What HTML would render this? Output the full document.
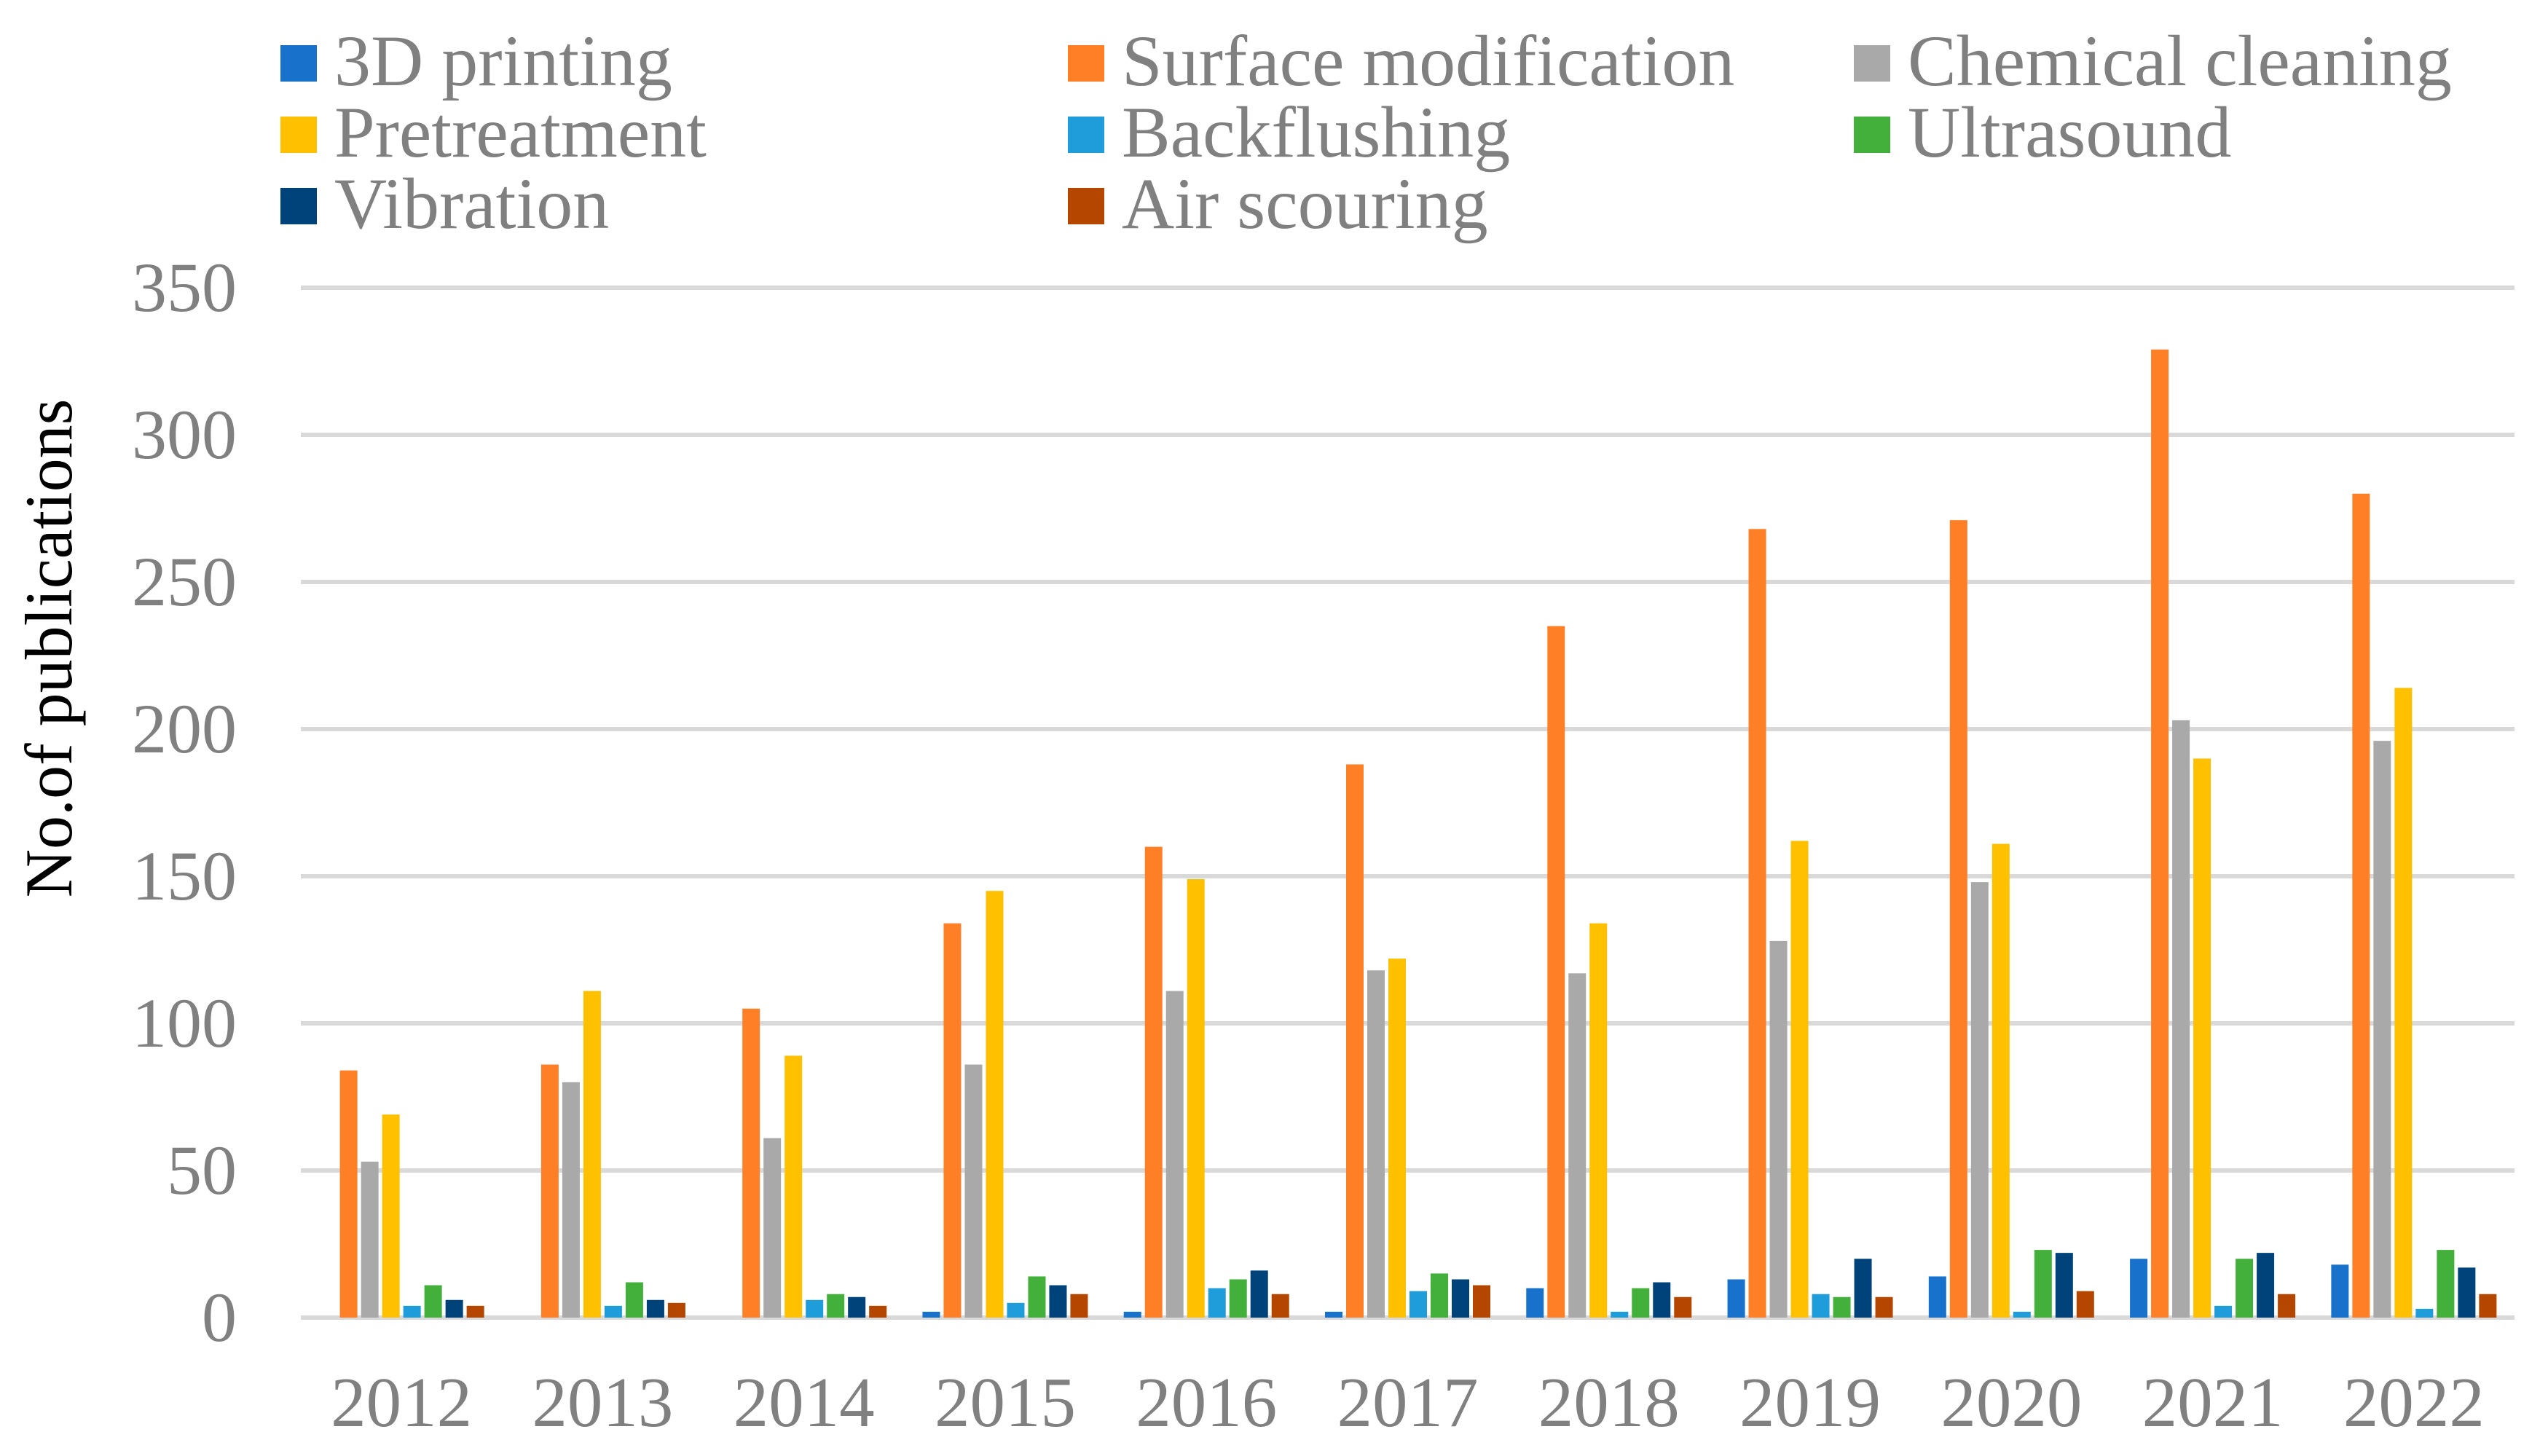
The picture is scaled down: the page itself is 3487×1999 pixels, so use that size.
<!DOCTYPE html>
<html><head><meta charset="utf-8"><style>
html,body{margin:0;padding:0;background:#fff;}
svg{display:block;}
text{font-family:"Liberation Serif",serif;}
</style></head><body>
<svg id="chart" width="3487" height="1999" viewBox="0 0 3487 1999" xmlns="http://www.w3.org/2000/svg">
<g id="grid"></g>
<g id="yticks"></g>
<g id="bars"></g>
<g id="xticks"></g>
<g id="legend"></g>
<text transform="translate(98,890) rotate(-90)" text-anchor="middle" font-size="92" fill="#000">No.of publications</text>
</svg>
<script>
const years = ["2012","2013","2014","2015","2016","2017","2018","2019","2020","2021","2022"];
const seriesNames = ["3D printing","Surface modification","Chemical cleaning","Pretreatment","Backflushing","Ultrasound","Vibration","Air scouring"];
const seriesColors = ["#1872cc","#ff7f27","#a9a9a9","#ffc000","#1f9ddb","#43b03c","#00437a","#b54600"];
const print3d   = [0,0,0,2,2,2,10,13,14,20,18];
const surface   = [84,86,105,134,160,188,235,268,271,329,280];
const chemical  = [53,80,61,86,111,118,117,128,148,203,196];
const pretreat  = [69,111,89,145,149,122,134,162,161,190,214];
const backflush = [4,4,6,5,10,9,2,8,2,4,3];
const ultrasound= [11,12,8,14,13,15,10,7,23,20,23];
const vibration = [6,6,7,11,16,13,12,20,22,22,17];
const airscour  = [4,5,4,8,8,11,7,7,9,8,8];
const yTicks = [0,50,100,150,200,250,300,350];

const series = [print3d,surface,chemical,pretreat,backflush,ultrasound,vibration,airscour];
const NS="http://www.w3.org/2000/svg";
const plotL=413, plotR=3452, y0=1809, yTop=395, yMax=350;
const yScale=v=>y0-(v/yMax)*(y0-yTop);
const band=(plotR-plotL)/years.length;
const pitch=29, bw=24;
const xPos=(i,s)=>plotL+i*band+(band-series.length*pitch)/2+s*pitch+2.5;
function mk(tag,attrs,parent){const e=document.createElementNS(NS,tag);for(const k in attrs)e.setAttribute(k,attrs[k]);parent.appendChild(e);return e;}

const grid=document.getElementById('grid'), yt=document.getElementById('yticks');
yTicks.forEach(v=>{
  const l=mk('rect',{x:plotL,y:yScale(v)-3,width:plotR-plotL,height:6,fill:'#d9d9d9'},grid);
  
  
  const t=mk('text',{x:325,y:yScale(v)+32,'text-anchor':'end','font-size':96,fill:'#808080'},yt);
  t.textContent=v;
  
  
});
const bars=document.getElementById('bars');
series.forEach((arr,s)=>{
  arr.forEach((v,i)=>{
    if(v<=0)return;
    const r=mk('rect',{x:xPos(i,s),y:yScale(v),width:bw,height:y0-yScale(v),fill:seriesColors[s]},bars);
    
    
  });
});
const xt=document.getElementById('xticks');
years.forEach((y,i)=>{
  const t=mk('text',{x:plotL+i*band+band/2,y:1958,'text-anchor':'middle','font-size':97,fill:'#808080'},xt);
  t.textContent=y;
  
  
});
const lg=document.getElementById('legend');
const colX=[385,1466,2545], rowY=[62,160,258];
seriesNames.forEach((n,k)=>{
  const c=k%3, r=Math.floor(k/3);
  const g=mk('g',{},lg);
  
  
  mk('rect',{x:colX[c],y:rowY[r],width:50,height:50,fill:seriesColors[k]},g);
  const t=mk('text',{x:colX[c]+74,y:rowY[r]+55,'font-size':100,fill:'#808080'},g);
  t.textContent=n;
});
</script>
</body></html>
